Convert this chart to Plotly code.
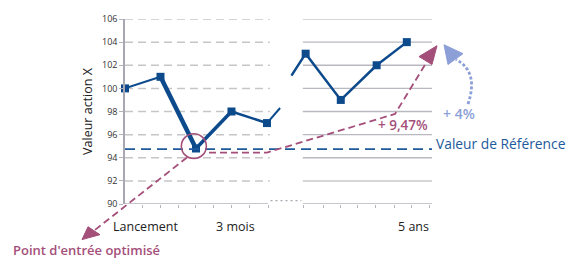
import plotly.graph_objects as go

# ---------------- data ----------------
left_x = [0, 1, 2, 3, 4]
left_y = [100, 101, 94.8, 98, 97]
right_x = [5.09, 6.08, 7.09, 7.94]
right_y = [103, 99, 102, 104]
gap_left_end = (4.37, 98.3)     # where the left line is cut
gap_right_start = (4.69, 101.1)  # where the right line resumes
ref_value = 94.75
x_labels = ["Lancement", "3 mois", "5 ans"]
x_label_pos = [0.59, 3.11, 8.14]
y_tick_vals = [90, 92, 94, 96, 98, 100, 102, 104, 106]
x_tick_pos = [0.5, 1, 1.5, 2, 2.5, 3, 3.5, 4.03,
              5.04, 5.58, 6.08, 6.56, 7.07, 7.58, 8.08, 8.59]

# ---------------- style ----------------
W, H = 570, 258
ML, MT = 125, 17
PW, PH = 307, 187
MR, MB = W - ML - PW, H - MT - PH
XR = [0, 8.65]
YR = [90, 106]
NAVY = "#0c4a8c"
PINK = "#a44f7a"
LBLUE = "#8c9fd6"
REFBLUE = "#1d5a9c"
GRID = "#c6c6c9"
FONT = "Open Sans"

def pp(px, py):
    return ((px - ML) / PW, (MT + PH - py) / PH)

def path(points, close=False):
    s = ""
    for i, (px, py) in enumerate(points):
        x, y = pp(px, py)
        s += ("M" if i == 0 else "L") + f"{x:.5f},{y:.5f} "
    return s + ("Z" if close else "")

fig = go.Figure()

# broken navy line, segments of varying thickness
lx = left_x + [gap_left_end[0]]
ly = left_y + [gap_left_end[1]]
widths = [2, 4.5, 3.5, 2.5, 2]
for i in range(len(lx) - 1):
    fig.add_trace(go.Scatter(x=[lx[i], lx[i + 1]], y=[ly[i], ly[i + 1]], mode="lines",
                             line=dict(color=NAVY, width=widths[i]), hoverinfo="skip"))
fig.add_trace(go.Scatter(x=[gap_right_start[0]] + right_x, y=[gap_right_start[1]] + right_y,
                         mode="lines", line=dict(color=NAVY, width=2.5)))
fig.add_trace(go.Scatter(x=left_x + right_x, y=left_y + right_y, mode="markers",
                         marker=dict(symbol="square", size=8, color=NAVY), cliponaxis=False))

shapes = []
# gridlines: dashed on left panel, solid on right panel
for v in y_tick_vals[1:]:
    shapes.append(dict(type="line", xref="x", yref="y", x0=0, x1=4.08, y0=v, y1=v,
                       line=dict(color=GRID, width=1.5, dash="8px,5px"), layer="below"))
    shapes.append(dict(type="line", xref="x", yref="y", x0=5.01, x1=8.65, y0=v, y1=v,
                       line=dict(color="#d6d6d8" if v in (106, 92) else "#b9b9c2",
                                 width=2 if v in (106, 92) else 1.3), layer="below"))
# bottom axis segments + dotted break
shapes.append(dict(type="line", xref="x", yref="y", x0=0, x1=4.03, y0=90, y1=90,
                   line=dict(color="#b4b4bc", width=1.5)))
shapes.append(dict(type="line", xref="x", yref="y", x0=5.02, x1=8.65, y0=90, y1=90,
                   line=dict(color="#b4b4bc", width=1.5)))
shapes.append(dict(type="line", xref="x", yref="y", x0=4.1, x1=4.97, y0=90.3, y1=90.3,
                   line=dict(color="#a8a8b0", width=1.3, dash="2px,3px")))
# reference line
shapes.append(dict(type="line", xref="x", yref="y", x0=0, x1=8.65, y0=ref_value, y1=ref_value,
                   line=dict(color=REFBLUE, width=1.6, dash="10px,6px")))
# circle around entry point
imin = left_y.index(min(left_y))
cx, cy = left_x[imin] - 0.06, left_y[imin] + 0.2
rx, ry = 12.5 / (PW / (XR[1] - XR[0])), 12.5 / (PH / (YR[1] - YR[0]))
shapes.append(dict(type="circle", xref="x", yref="y", x0=cx - rx, x1=cx + rx, y0=cy - ry, y1=cy + ry,
                   line=dict(color=PINK, width=1.6)))
# pink dashed arrows
shapes.append(dict(type="path", xref="paper", yref="paper",
                   path=path([(187, 157), (94, 231)]),
                   line=dict(color=PINK, width=1.8, dash="7px,4px")))
shapes.append(dict(type="path", xref="paper", yref="paper",
                   path=path([(82, 240), (88, 227), (100, 235)], close=True),
                   fillcolor=PINK, line=dict(color=PINK, width=1)))
shapes.append(dict(type="path", xref="paper", yref="paper",
                   path=path([(209, 152), (267, 152), (395, 113), (430, 55)]),
                   line=dict(color=PINK, width=1.8, dash="7px,4px")))
shapes.append(dict(type="path", xref="paper", yref="paper",
                   path=path([(437, 44), (419, 55), (432, 63)], close=True),
                   fillcolor=PINK, line=dict(color=PINK, width=1)))
# light-blue dotted curved arrow
a0, a1, a2 = pp(468, 103), pp(479, 70), pp(456, 58)
shapes.append(dict(type="path", xref="paper", yref="paper",
                   path=f"M{a0[0]:.5f},{a0[1]:.5f} Q{a1[0]:.5f},{a1[1]:.5f} {a2[0]:.5f},{a2[1]:.5f}",
                   line=dict(color=LBLUE, width=2.8, dash="3px,2px")))
shapes.append(dict(type="path", xref="paper", yref="paper",
                   path=path([(444, 43), (463, 52), (448, 63)], close=True),
                   fillcolor=LBLUE, line=dict(color=LBLUE, width=1)))

annotations = []
for lab, pos in zip(x_labels, x_label_pos):
    annotations.append(dict(x=pos, xref="x", y=pp(0, 227)[1], yref="paper", text=lab,
                            showarrow=False, xanchor="center", yanchor="middle",
                            font=dict(family=FONT, size=12.5, color="#222222")))

def txt(text, px, py, color, anchor="center", size=12.5, weight="normal"):
    x, y = pp(px, py)
    annotations.append(dict(x=x, y=y, xref="paper", yref="paper", text=text, showarrow=False,
                            xanchor=anchor, yanchor="middle",
                            font=dict(family=FONT, size=size, color=color, weight=weight)))

txt("+ 9,47%", 403, 124, PINK, size=13.5, weight=600)
txt("+ 4%", 459, 113, LBLUE, size=14, weight=600)
txt("Valeur de Référence", 434, 143, REFBLUE, anchor="left", size=13.8)
txt("Point d'entrée optimisé", 11, 250, PINK, anchor="left", size=13, weight=600)

fig.update_layout(
    width=W, height=H, margin=dict(l=ML, r=MR, t=MT, b=MB),
    paper_bgcolor="white", plot_bgcolor="white", showlegend=False,
    shapes=shapes, annotations=annotations,
    xaxis=dict(range=XR, tickvals=x_tick_pos, showticklabels=False, ticks="outside",
               ticklen=3, tickcolor="#b4b4bc", tickwidth=1.2, showgrid=False,
               zeroline=False, showline=False),
    yaxis=dict(range=YR, tickvals=y_tick_vals, showgrid=False, zeroline=False,
               showline=True, linecolor="#a8a8b2", linewidth=1.5,
               ticks="outside", ticklen=4, tickcolor="#b4b4bc",
               tickfont=dict(family=FONT, size=9, color="#333333"),
               title=dict(text="Valeur action X", standoff=7,
                          font=dict(family=FONT, size=12.5, color="#222222"))),
)

fig.write_html("out.html", config={"displayModeBar": False},
               post_script="document.body.style.margin='0';document.body.style.overflow='hidden';")
